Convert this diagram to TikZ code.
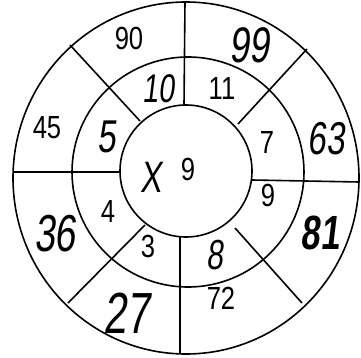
\documentclass[tikz,border=0pt]{standalone}
\usepackage{fontspec}
\newfontfamily\printfont[FakeStretch=0.8]{Liberation Sans}
\newfontfamily\handfont[FakeStretch=0.72,FakeSlant=0.12]{Liberation Sans}
\begin{document}
\begin{tikzpicture}[x=1pt,y=-1pt,
  ring/.style={line width=1.6pt},
  divider/.style={line width=1.6pt},
  printed/.style={inner sep=0pt, font=\printfont\fontsize{32}{32}\selectfont},
  hand/.style={inner sep=0pt, font={\handfont\fontsize{#1}{#1}\selectfont}},
  handbold/.style={inner sep=0pt, font={\handfont\bfseries\fontsize{#1}{#1}\selectfont}}]
\useasboundingbox (0,0) rectangle (361,358);
% rings
\draw[ring] (186,178) ellipse [x radius=173, y radius=176];
\draw[ring] (188,172) ellipse [x radius=116, y radius=115];
\draw[ring] (186,171) ellipse [x radius=66, y radius=66];
% divider end points
\coordinate (topO) at (185,2);
\coordinate (topI) at (184,105);
\coordinate (ulO) at (70,45);
\coordinate (ulI) at (140,121);
\coordinate (urO) at (307,49);
\coordinate (urI) at (238,124);
\coordinate (lO) at (13,172);
\coordinate (lI) at (120,172);
\coordinate (rI) at (252,180);
\coordinate (rO) at (359,182);
\coordinate (llI) at (145,225);
\coordinate (llO) at (68,303);
\coordinate (lrI) at (235,228);
\coordinate (lrO) at (302,303);
\coordinate (botI) at (180,237);
\coordinate (botO) at (180,354);
\draw[divider] (topO) -- (topI);
\draw[divider] (ulO) -- (ulI);
\draw[divider] (urO) -- (urI);
\draw[divider] (lO) -- (lI);
\draw[divider] (rI) -- (rO);
\draw[divider] (llI) -- (llO);
\draw[divider] (lrI) -- (lrO);
\draw[divider] (botI) -- (botO);
% printed numbers
\node[printed] (n90) at (129,38) {90};
\node[printed] (n11) at (222,88) {11};
\node[printed] (n45) at (47,128) {45};
\node[printed] (n7) at (267,142) {7};
\node[printed] (n9c) at (188,169) {9};
\node[printed] (n4) at (108,211) {4};
\node[printed] (n3) at (148,246) {3};
\node[printed] (n72) at (221,298) {72};
\node[printed] (n9r) at (268,195) {9};
% handwritten numbers
\node[hand=50] (n99) at (250,45) {99};
\node[hand=40] (n10) at (159,89) {10};
\node[hand=46] (n5) at (107,137) {5};
\node[hand=46] (n63) at (326,139) {63};
\node[hand=44] (nX) at (151,177) {X};
\node[hand=52] (n36) at (55,234) {36};
\node[hand=58] (n27) at (127,313) {27};
\node[hand=42] (n8) at (215,255) {8};
\node[handbold=48] (n81) at (320,233) {81};
\end{tikzpicture}
\end{document}
